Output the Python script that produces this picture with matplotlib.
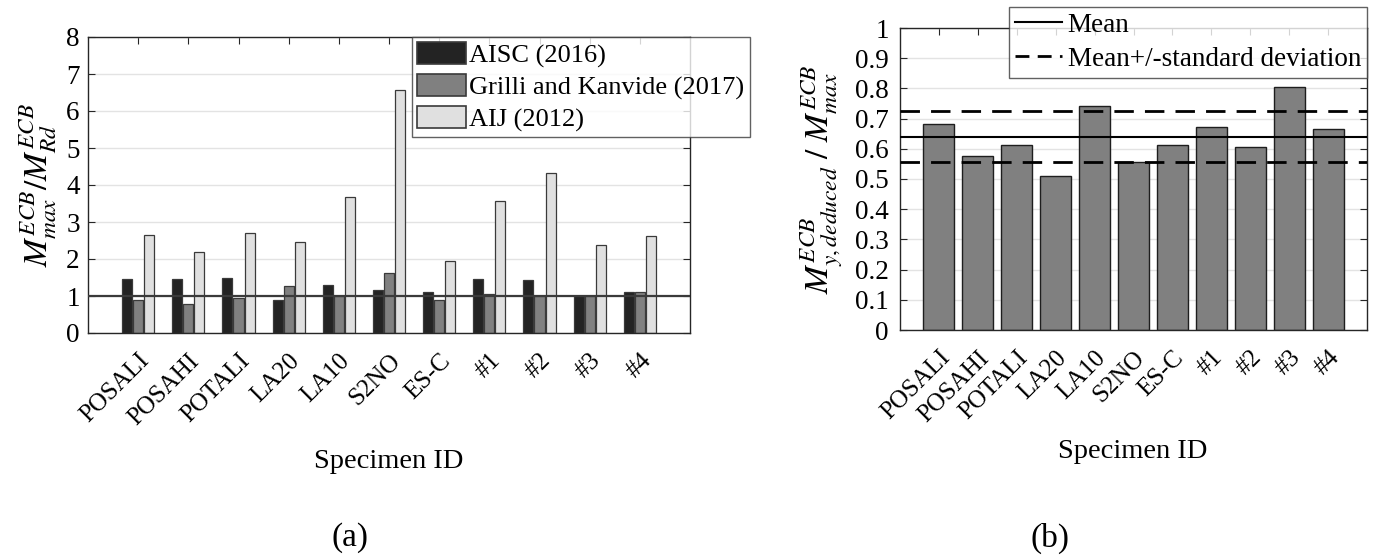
import numpy as np
import matplotlib
matplotlib.use("Agg")
import matplotlib.pyplot as plt
from matplotlib.patches import Patch
from matplotlib.lines import Line2D

plt.rcParams['font.family'] = ['Liberation Serif', 'DejaVu Serif']
plt.rcParams['mathtext.fontset'] = 'stix'

specimens = ["POSALI", "POSAHI", "POTALI", "LA20", "LA10", "S2NO", "ES-C", "#1", "#2", "#3", "#4"]
aisc_2016 = [1.47, 1.47, 1.49, 0.90, 1.30, 1.16, 1.10, 1.46, 1.43, 0.99, 1.10]
grilli_2017 = [0.90, 0.78, 0.94, 1.28, 0.99, 1.63, 0.90, 1.05, 0.99, 0.99, 1.12]
aij_2012 = [2.65, 2.18, 2.71, 2.46, 3.67, 6.56, 1.95, 3.57, 4.32, 2.38, 2.62]
series_names = ["AISC (2016)", "Grilli and Kanvide (2017)", "AIJ (2012)"]
deduced_ratio = [0.682, 0.577, 0.611, 0.510, 0.743, 0.556, 0.612, 0.672, 0.606, 0.804, 0.666]

W, H = 1375, 556
fig = plt.figure(figsize=(W / 100, H / 100), dpi=100)

def box(x0, y0, x1, y1):
    return [x0 / W, 1 - y1 / H, (x1 - x0) / W, (y1 - y0) / H]

FS = 19.5
XFS = 18
LFS = 19
axis_col = '#262626'

def style_axes(ax):
    for s in ax.spines.values():
        s.set_color(axis_col)
        s.set_linewidth(1.0)
    ax.tick_params(direction='in', top=True, right=True, length=5, width=0.8,
                   colors=axis_col, labelcolor='black', labelsize=FS)
    ax.yaxis.grid(True, color='#e3e3e3', linewidth=1.0)
    ax.set_axisbelow(True)

# ---------- (a) ----------
ax1 = fig.add_axes(box(88, 37, 690, 333))
x = np.arange(1, len(specimens) + 1)
colors_a = ['#232323', '#808080', '#e0e0e0']
offsets = [-0.22, 0.0, 0.22]
for vals, col, off in zip([aisc_2016, grilli_2017, aij_2012], colors_a, offsets):
    ax1.bar(x + off, vals, width=0.2, color=col, edgecolor='#3a3a3a', linewidth=0.9, zorder=2)
ax1.axhline(1.0, color='#3a3a3a', linewidth=1.6, zorder=3)
ax1.set_xlim(0, 12)
ax1.set_ylim(0, 8)
ax1.set_yticks(np.arange(0, 9, 1))
style_axes(ax1)
ax1.tick_params(axis='y', pad=6)
ax1.set_xticks(x)
ax1.set_xticklabels(specimens, rotation=45, ha='right', va='top', rotation_mode='anchor',
                    fontsize=XFS)
ax1.tick_params(axis='x', pad=12)
handles_a = [Patch(facecolor=c, edgecolor='#3a3a3a', linewidth=1.2) for c in colors_a]
leg1 = fig.legend(handles_a, series_names, loc='upper left', bbox_to_anchor=(412 / W, 1 - 37 / H),
                  fontsize=LFS, frameon=True, fancybox=False, borderaxespad=0, borderpad=0.2,
                  handlelength=1.85, handleheight=0.9, handletextpad=0.12, labelspacing=0.25)
leg1.get_frame().set_edgecolor('#3a3a3a')
leg1.get_frame().set_linewidth(1.0)
fig.text(38 / W, 1 - 185 / H, r'$M_{max}^{ECB}/M_{Rd}^{ECB}$', rotation=90,
         ha='center', va='center', fontsize=24)
fig.text(389 / W, 1 - 462 / H, 'Specimen ID', ha='center', va='center', fontsize=20.5)
fig.text(350 / W, 1 - 538 / H, '(a)', ha='center', va='center', fontsize=24)

# ---------- (b) ----------
ax2 = fig.add_axes(box(900, 28, 1367, 330))
ax2.bar(x, deduced_ratio, width=0.8, color='#808080', edgecolor='#1e1e1e', linewidth=1.0, zorder=2)
mean_v = np.mean(deduced_ratio)
std_v = np.std(deduced_ratio, ddof=1)
ax2.axhline(mean_v, color='black', linewidth=1.5, zorder=3)
ax2.axhline(mean_v + std_v, color='black', linewidth=2.0, dashes=(7, 4), zorder=3)
ax2.axhline(mean_v - std_v, color='black', linewidth=2.0, dashes=(7, 4), zorder=3)
ax2.set_xlim(0, 12)
ax2.set_ylim(0, 1)
ax2.set_yticks(np.round(np.arange(0, 1.01, 0.1), 1))
ax2.set_yticklabels(['0'] + ['%.1f' % v for v in np.arange(0.1, 0.95, 0.1)] + ['1'])
style_axes(ax2)
ax2.tick_params(axis='y', pad=8)
ax2.set_xticks(x)
ax2.set_xticklabels(specimens, rotation=45, ha='right', va='top', rotation_mode='anchor',
                    fontsize=XFS)
ax2.tick_params(axis='x', pad=12)
handles_b = [Line2D([], [], color='black', linewidth=1.5),
             Line2D([], [], color='black', linewidth=2.0, dashes=(5, 3))]
leg2 = fig.legend(handles_b, ['Mean', 'Mean+/-standard deviation'], loc='upper right',
                  bbox_to_anchor=(1367 / W, 1 - 7 / H), fontsize=LFS + 0.5, frameon=True,
                  fancybox=False, borderaxespad=0, borderpad=0.22, handlelength=1.75,
                  handletextpad=0.2, labelspacing=0.32)
leg2.get_frame().set_edgecolor('#3a3a3a')
leg2.get_frame().set_linewidth(1.0)
fig.text(822 / W, 1 - 179 / H, r'$M_{y,deduced}^{ECB}\ /\ M_{max}^{ECB}$', rotation=90,
         ha='center', va='center', fontsize=24)
fig.text(1133 / W, 1 - 452 / H, 'Specimen ID', ha='center', va='center', fontsize=20.5)
fig.text(1050 / W, 1 - 538 / H, '(b)', ha='center', va='center', fontsize=24)

fig.savefig('out.png', dpi=100)
